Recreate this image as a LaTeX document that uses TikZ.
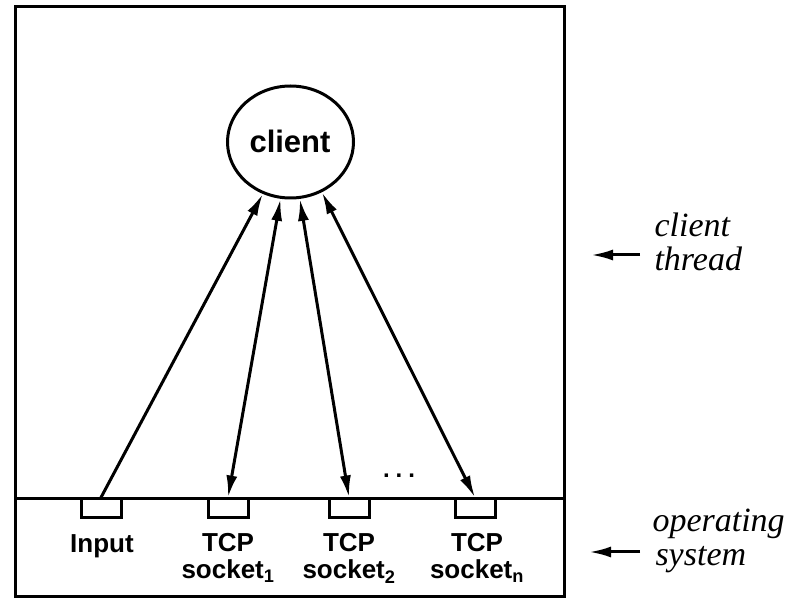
\documentclass[tikz,border=0pt]{standalone}
\usepackage{fontspec}
\setmainfont{Liberation Serif}
\setsansfont{Liberation Sans}
\usetikzlibrary{arrows.meta,shapes.geometric}
\begin{document}
\begin{tikzpicture}[x=1pt,y=-1pt,
  line width=3pt,
  tip/.style={-{Latex[length=22pt,width=11pt]}},
  dtip/.style={{Latex[length=22pt,width=11pt]}-{Latex[length=22pt,width=11pt]}},
  port/.style={draw,rectangle,minimum width=40pt,minimum height=19pt,inner sep=0pt},
  lab/.style={font=\sffamily\bfseries\fontsize{26}{28}\selectfont,inner sep=0pt},
  side/.style={font=\rmfamily\itshape\fontsize{34}{36}\selectfont,inner sep=0pt,anchor=base west}]
\useasboundingbox (0,0) rectangle (788,601);
% frame
\draw (15,7) rectangle (564,597);
\draw (15,499) coordinate (osl) -- (564,499) coordinate (osr);
% client
\node[draw,ellipse,minimum width=126pt,minimum height=112pt,inner sep=0pt] (client) at (290.5,142) {};
\node[font=\sffamily\bfseries\fontsize{31}{33}\selectfont,inner sep=0pt] (ctext) at (290,141) {client};
% ports
\node[port] (in) at (101,508.5) {};
\node[port] (s1) at (228,508.5) {};
\node[port] (s2) at (349,508.5) {};
\node[port] (sn) at (475,508.5) {};
% labels
\node[lab,anchor=base] (inl) at (102,553) {Input};
\node[lab,anchor=base] (t1) at (228,552) {TCP};
\node[lab,anchor=base] (k1) at (228,579) {socket\textsubscript{1}};
\node[lab,anchor=base] (t2) at (349,552) {TCP};
\node[lab,anchor=base] (k2) at (349,579) {socket\textsubscript{2}};
\node[lab,anchor=base] (t3) at (477,552) {TCP};
\node[lab,anchor=base] (k3) at (477,579) {socket\textsubscript{n}};
\node[font=\sffamily\bfseries\fontsize{24}{26}\selectfont,inner sep=0pt,anchor=base] (dots) at (399,478) {.\hspace{6pt}.\hspace{6pt}.};
% arrows
\draw[tip] (in.north) -- (client);
\draw[dtip] (s1.north) -- (client);
\draw[dtip] (s2.north) -- (client);
\draw[dtip] (sn.north) -- (client.-58);
% side labels
\coordinate (a1s) at (640,255);
\coordinate (a1e) at (591,255);
\draw[tip] (a1s) -- (a1e);
\node[side] (ct1) at (653,237) {client};
\node[side] (ct2) at (653,271) {thread};
\coordinate (a2s) at (640,552);
\coordinate (a2e) at (589,552);
\draw[tip] (a2s) -- (a2e);
\node[side] (os1) at (651,532) {operating};
\node[side] (os2) at (654,566) {system};
\end{tikzpicture}
\end{document}
